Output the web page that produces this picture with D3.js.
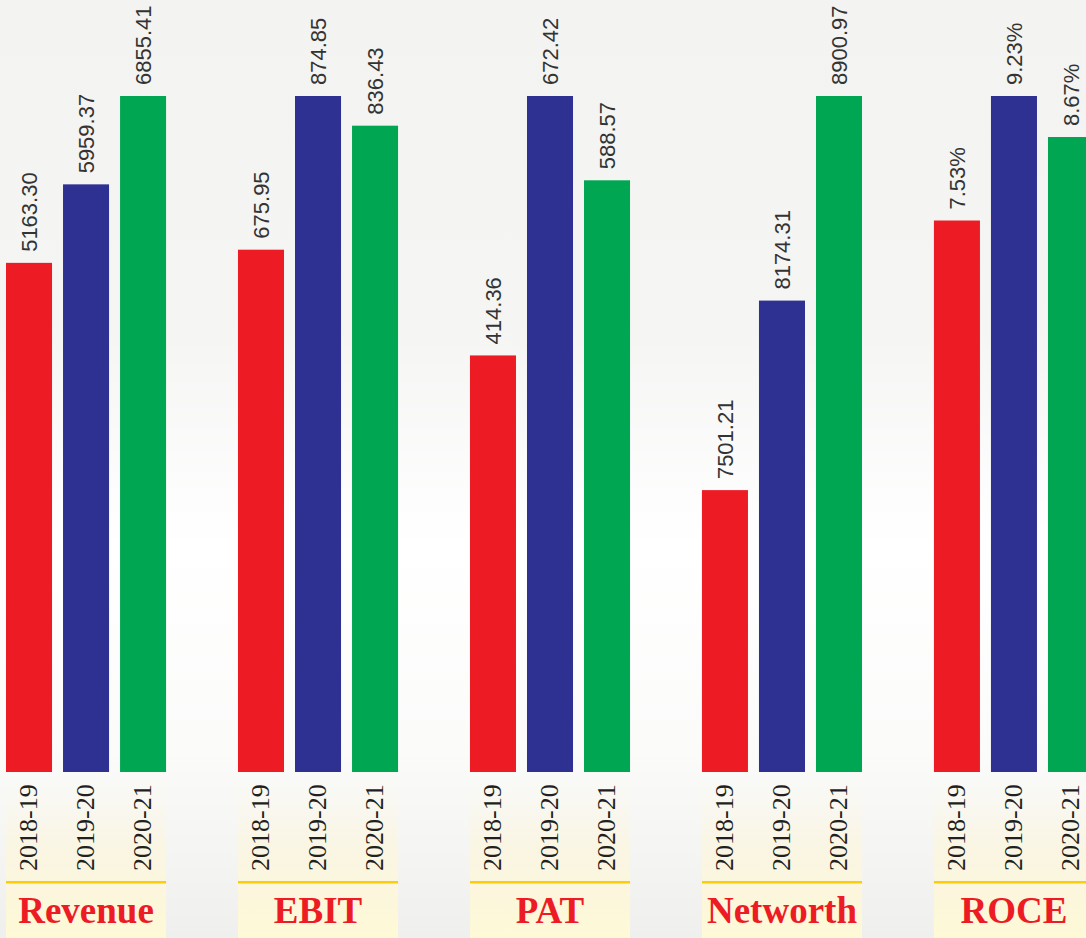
<!DOCTYPE html>
<html>
<head>
<meta charset="utf-8">
<script src="https://cdn.jsdelivr.net/npm/d3@7"></script>
<style>
  body { margin: 0; padding: 0; overflow: hidden; }
</style>
</head>
<body>
<div id="chart"></div>
<script>
// data
var categories = ["Revenue", "EBIT", "PAT", "Networth", "ROCE"];
var years = ["2018-19", "2019-20", "2020-21"];
var revenue = [5163.30, 5959.37, 6855.41];
var ebit = [675.95, 874.85, 836.43];
var pat = [414.36, 672.42, 588.57];
var networth = [7501.21, 8174.31, 8900.97];
var roce = [7.53, 9.23, 8.67];
var valueLabels = [
  ["5163.30", "5959.37", "6855.41"],
  ["675.95", "874.85", "836.43"],
  ["414.36", "672.42", "588.57"],
  ["7501.21", "8174.31", "8900.97"],
  ["7.53%", "9.23%", "8.67%"]
];
// axis floor for each panel (networth is not drawn from zero)
var floors = [0, 0, 0, 6500, 0];
var colors = ["#ed1c24", "#2e3192", "#00a651"];

var series = [revenue, ebit, pat, networth, roce];

var W = 1086, H = 938;
var barBottom = 772, barTop = 96;

var svg = d3.select("#chart")
  .append("svg")
    .attr("width", W)
    .attr("height", H);

var defs = svg.append("defs");

// page background
var bg = defs.append("linearGradient")
    .attr("id", "bg")
    .attr("x1", 0).attr("y1", 0).attr("x2", 0).attr("y2", 1);
bg.append("stop").attr("offset", "0%").attr("stop-color", "#f3f3f1");
bg.append("stop").attr("offset", "35%").attr("stop-color", "#f5f5f4");
bg.append("stop").attr("offset", "58%").attr("stop-color", "#ffffff");
bg.append("stop").attr("offset", "80%").attr("stop-color", "#fbfbfa");
bg.append("stop").attr("offset", "100%").attr("stop-color", "#efefed");

// pale yellow band under each group
var band = defs.append("linearGradient")
    .attr("id", "band")
    .attr("x1", 0).attr("y1", 0).attr("x2", 0).attr("y2", 1);
band.append("stop").attr("offset", "0%").attr("stop-color", "#fdf9e6").attr("stop-opacity", 0);
band.append("stop").attr("offset", "45%").attr("stop-color", "#fcf6dc").attr("stop-opacity", 0.7);
band.append("stop").attr("offset", "100%").attr("stop-color", "#fef9d6").attr("stop-opacity", 1);

svg.append("rect")
    .attr("width", W)
    .attr("height", H)
    .attr("fill", "url(#bg)");

// scales
var x0 = d3.scaleBand()
    .domain(categories)
    .range([6, 1094])
    .paddingInner(0.31)
    .paddingOuter(0);

var x1 = d3.scaleBand()
    .domain(years)
    .range([0, x0.bandwidth()])
    .paddingInner(0.193)
    .paddingOuter(0);

var groups = svg.selectAll(".panel")
  .data(categories)
  .enter()
  .append("g")
    .attr("class", "panel")
    .attr("transform", function (d) { return "translate(" + x0(d) + ",0)"; });

// yellow band + gold rule + category name
groups.append("rect")
    .attr("x", 0)
    .attr("y", 775)
    .attr("width", x0.bandwidth())
    .attr("height", H - 775)
    .attr("fill", "url(#band)");

groups.append("rect")
    .attr("x", 0)
    .attr("y", 881)
    .attr("width", x0.bandwidth())
    .attr("height", 2.5)
    .attr("fill", "#ffcc0a");

groups.append("text")
    .attr("x", x0.bandwidth() / 2)
    .attr("y", 923)
    .attr("text-anchor", "middle")
    .style("font-family", "'Liberation Serif', 'DejaVu Serif', serif")
    .style("font-weight", "bold")
    .style("font-size", "37px")
    .style("fill", "#ed1c24")
    .text(function (d) { return d; });

groups.each(function (cat, i) {
  var g = d3.select(this);
  var vals = series[i];
  var y = d3.scaleLinear()
      .domain([floors[i], d3.max(vals)])
      .range([barBottom, barTop]);

  // bars
  g.selectAll(".bar")
    .data(vals)
    .enter()
    .append("rect")
      .attr("class", "bar")
      .attr("x", function (d, j) { return x1(years[j]); })
      .attr("y", function (d) { return y(d); })
      .attr("width", x1.bandwidth())
      .attr("height", function (d) { return barBottom - y(d); })
      .attr("fill", function (d, j) { return colors[j]; });

  // value labels, rotated
  g.selectAll(".val")
    .data(vals)
    .enter()
    .append("text")
      .attr("class", "val")
      .attr("transform", function (d, j) {
        var cx = x1(years[j]) + x1.bandwidth() / 2;
        return "translate(" + (cx + 8) + "," + (y(d) - 11) + ") rotate(-90)";
      })
      .attr("text-anchor", "start")
      .style("font-family", "'Liberation Sans', Arial, sans-serif")
      .style("font-size", "22px")
      .style("fill", "#333333")
      .text(function (d, j) { return valueLabels[i][j]; });

  // year labels, rotated
  g.selectAll(".yr")
    .data(years)
    .enter()
    .append("text")
      .attr("class", "yr")
      .attr("transform", function (d) {
        var cx = x1(d) + x1.bandwidth() / 2;
        return "translate(" + (cx + 8) + "," + 871 + ") rotate(-90)";
      })
      .attr("text-anchor", "start")
      .style("font-family", "'Liberation Serif', 'DejaVu Serif', serif")
      .style("font-size", "26px")
      .style("fill", "#231f20")
      .text(function (d) { return d; });
});
</script>
</body>
</html>
